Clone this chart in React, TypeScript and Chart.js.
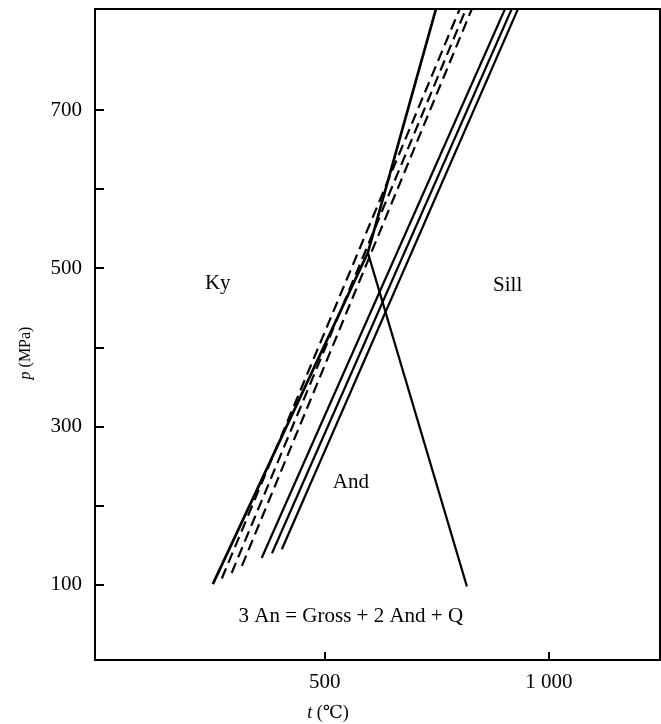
import React, { useEffect, useRef } from 'react';
import { Chart, registerables } from 'chart.js';

Chart.register(...registerables);

// Axis ranges
const T_MIN = -13;
const T_MAX = 1248;
const P_MIN = 5;
const P_MAX = 828;

// Ticks
const xTickValues = [500, 1000];
const xTickLabels = ['500', '1 000'];
const yTickValues = [100, 200, 300, 400, 500, 600, 700];
const yLabelledValues = [100, 300, 500, 700];

// Solid Ky boundary (kinked at the triple point)
const solidKyT = [250, 596, 748];
const solidKyP = [101, 520, 828];

// Dashed boundaries
const dashed1T = [270, 801];
const dashed1P = [108, 828];
const dashed2T = [292, 815];
const dashed2P = [115, 828];
const dashed3T = [315, 828];
const dashed3P = [124, 828];

// Solid And/Sill boundaries
const solidB1T = [359, 902];
const solidB1P = [134, 828];
const solidB2T = [382, 917];
const solidB2P = [140, 828];
const solidB3T = [404, 931];
const solidB3P = [145, 828];

// Reaction line 3 An = Gross + 2 And + Q
const reactionT = [596, 817];
const reactionP = [520, 98];

// Field labels
const fieldLabels = ['Ky', 'Sill', 'And', '3 An = Gross + 2 And + Q'];
const fieldLabelT = [261, 908, 558, 558];
const fieldLabelP = [481, 479, 230, 60];

const SERIF = '"Liberation Serif", "DejaVu Serif", serif';
const FONT_SIZE = 21;

function pts(t: number[], p: number[]) {
  return t.map((v, i) => ({ x: v, y: p[i] }));
}

function lineSet(t: number[], p: number[], dashed: boolean, width = 2.2) {
  return {
    data: pts(t, p),
    showLine: true,
    borderColor: '#000',
    backgroundColor: '#000',
    borderWidth: width,
    borderDash: dashed ? [11, 6] : [],
    pointRadius: 0,
    pointHoverRadius: 0,
    tension: 0,
  };
}

const framePlugin = {
  id: 'frameAndText',
  afterDraw(chart: any) {
    const { ctx, chartArea: a, scales } = chart;
    const x = scales.x;
    const y = scales.y;
    ctx.save();
    ctx.strokeStyle = '#000';
    ctx.lineWidth = 2;
    ctx.strokeRect(a.left, a.top, a.right - a.left, a.bottom - a.top);
    // inward ticks
    ctx.beginPath();
    yTickValues.forEach((v) => {
      const py = Math.round(y.getPixelForValue(v));
      ctx.moveTo(a.left, py);
      ctx.lineTo(a.left + 9, py);
    });
    xTickValues.forEach((v) => {
      const px = Math.round(x.getPixelForValue(v));
      ctx.moveTo(px, a.bottom);
      ctx.lineTo(px, a.bottom - 8);
    });
    ctx.stroke();

    // field labels
    ctx.fillStyle = '#000';
    ctx.font = FONT_SIZE + 'px ' + SERIF;
    ctx.textAlign = 'center';
    ctx.textBaseline = 'middle';
    fieldLabels.forEach((s, i) => {
      ctx.fillText(s, x.getPixelForValue(fieldLabelT[i]), y.getPixelForValue(fieldLabelP[i]));
    });

    ctx.textAlign = 'left';
    // x title
    {
      const italic = 'italic 18px ' + SERIF;
      const normal = '18px ' + SERIF;
      const v = 't';
      const rest = ' (\u2103)';
      ctx.font = italic;
      const w1 = ctx.measureText(v).width;
      ctx.font = normal;
      const w2 = ctx.measureText(rest).width;
      const cx = x.getPixelForValue(507);
      const cy = 713;
      const sx = cx - (w1 + w2) / 2;
      ctx.font = italic;
      ctx.fillText(v, sx, cy);
      ctx.font = normal;
      ctx.fillText(rest, sx + w1, cy);
    }
    // y title (rotated)
    {
      const italic = 'italic 16px ' + SERIF;
      const normal = '16px ' + SERIF;
      const v = 'p';
      const rest = ' (MPa)';
      ctx.font = italic;
      const w1 = ctx.measureText(v).width;
      ctx.font = normal;
      const w2 = ctx.measureText(rest).width;
      ctx.translate(26, 353);
      ctx.rotate(-Math.PI / 2);
      const sx = -(w1 + w2) / 2;
      ctx.font = italic;
      ctx.fillText(v, sx, 0);
      ctx.font = normal;
      ctx.fillText(rest, sx + w1, 0);
    }
    ctx.restore();
  },
};

export default function App() {
  const ref = useRef<HTMLCanvasElement>(null);
  useEffect(() => {
    const chart = new Chart(ref.current as HTMLCanvasElement, {
      type: 'scatter',
      data: {
        datasets: [
          lineSet(solidKyT, solidKyP, false, 2.7),
          lineSet(dashed1T, dashed1P, true),
          lineSet(dashed2T, dashed2P, true),
          lineSet(dashed3T, dashed3P, true),
          lineSet(solidB1T, solidB1P, false),
          lineSet(solidB2T, solidB2P, false),
          lineSet(solidB3T, solidB3P, false),
          lineSet(reactionT, reactionP, false),
        ] as any,
      },
      options: {
        animation: false,
        responsive: false,
        devicePixelRatio: 1,
        layout: { padding: { top: 9, right: 1, left: 0, bottom: 0 } },
        plugins: {
          legend: { display: false },
          tooltip: { enabled: false },
          title: { display: false },
        },
        scales: {
          x: {
            type: 'linear',
            position: 'bottom',
            min: T_MIN,
            max: T_MAX,
            grid: { display: false, drawTicks: false },
            border: { display: false },
            afterBuildTicks: (s: any) => {
              s.ticks = xTickValues.map((v) => ({ value: v }));
            },
            afterFit: (s: any) => {
              s.height = 64;
              s.paddingLeft = 0;
              s.paddingRight = 0;
            },
            ticks: {
              maxRotation: 0,
              autoSkip: false,
              padding: 10,
              color: '#000',
              font: { family: SERIF, size: FONT_SIZE },
              callback: (val: any) => {
                const i = xTickValues.indexOf(Number(val));
                return i >= 0 ? xTickLabels[i] : '';
              },
            },
          },
          y: {
            type: 'linear',
            position: 'left',
            min: P_MIN,
            max: P_MAX,
            grid: { display: false, drawTicks: false },
            border: { display: false },
            afterBuildTicks: (s: any) => {
              s.ticks = yTickValues.map((v) => ({ value: v }));
            },
            afterFit: (s: any) => {
              s.width = 95;
              s.paddingTop = 0;
              s.paddingBottom = 0;
            },
            ticks: {
              autoSkip: false,
              padding: 13,
              color: '#000',
              font: { family: SERIF, size: FONT_SIZE },
              callback: (val: any) => (yLabelledValues.includes(Number(val)) ? String(val) : ''),
            },
          },
        },
      },
      plugins: [framePlugin],
    });
    return () => chart.destroy();
  }, []);
  return (
    <div style={{ position: 'absolute', left: 0, top: 0, width: 661, height: 724, background: '#fff' }}>
      <canvas ref={ref} width={661} height={724} style={{ display: 'block' }} />
    </div>
  );
}
